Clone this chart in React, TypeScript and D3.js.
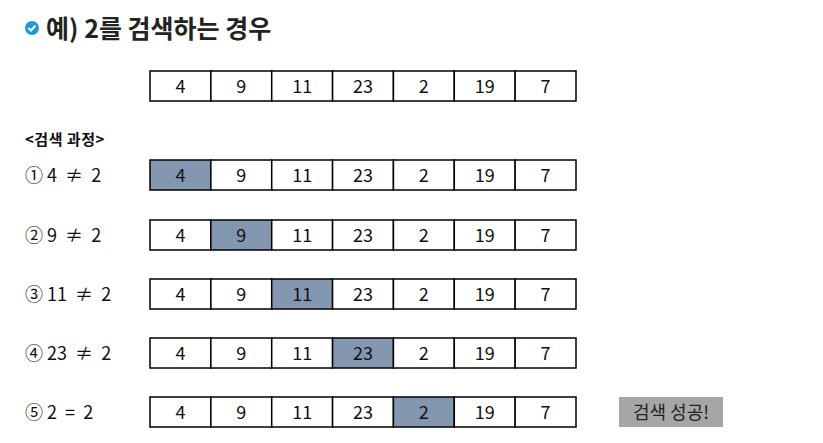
import React from "react";
import * as d3 from "d3";

const values = [4, 9, 11, 23, 2, 19, 7];
const stepLabels = ["① 4  ≠  2", "② 9  ≠  2", "③ 11  ≠  2", "④ 23  ≠  2", "⑤ 2  =  2"];
const rowTops = [160, 220, 279, 338, 397];

const font = "'Noto Sans CJK KR', 'Noto Sans', sans-serif";

const x = d3.scaleBand<number>().domain(d3.range(values.length)).range([150, 576]).padding(0);

function Row({ top, hi }: { top: number; hi: number }) {
  return (
    <g>
      {values.map((v, i) => (
        <g key={i}>
          <rect x={x(i)} y={top} width={x.bandwidth()} height={30}
            fill={i === hi ? "#8497b0" : "#fff"} stroke="#000" strokeWidth={1.5} />
          <text x={(x(i) || 0) + x.bandwidth() / 2} y={top + 22} textAnchor="middle"
            fontSize={18} fill="#111">{v}</text>
        </g>
      ))}
    </g>
  );
}

export default function App() {
  return (
    <svg width={823} height={443} style={{ position: "absolute", left: 0, top: 0 }} fontFamily={font}>
      <rect width={823} height={443} fill="#fff" />
      <circle cx={32} cy={28} r={7} fill="#1a9be0" />
      <path d="M28.5 28 L31 30.5 L35.5 25.5" fill="none" stroke="#fff" strokeWidth={2} />
      <text x={46} y={38} fontSize={25} fontWeight="bold" fill="#222">예) 2를 검색하는 경우</text>
      <Row top={71} hi={-1} />
      <text x={25} y={145} fontSize={15} fontWeight="bold" fill="#111" letterSpacing={0.5}>&lt;검색 과정&gt;</text>
      {stepLabels.map((s, k) => (
        <g key={k}>
          <text x={25} y={rowTops[k] + 22} fontSize={18} fill="#111" style={{ whiteSpace: "pre" }}>{s}</text>
          <Row top={rowTops[k]} hi={k} />
        </g>
      ))}
      <rect x={619} y={397} width={104} height={30} fill="#a6a6a6" />
      <text x={671} y={419} textAnchor="middle" fontSize={18} fill="#222">검색 성공!</text>
    </svg>
  );
}
